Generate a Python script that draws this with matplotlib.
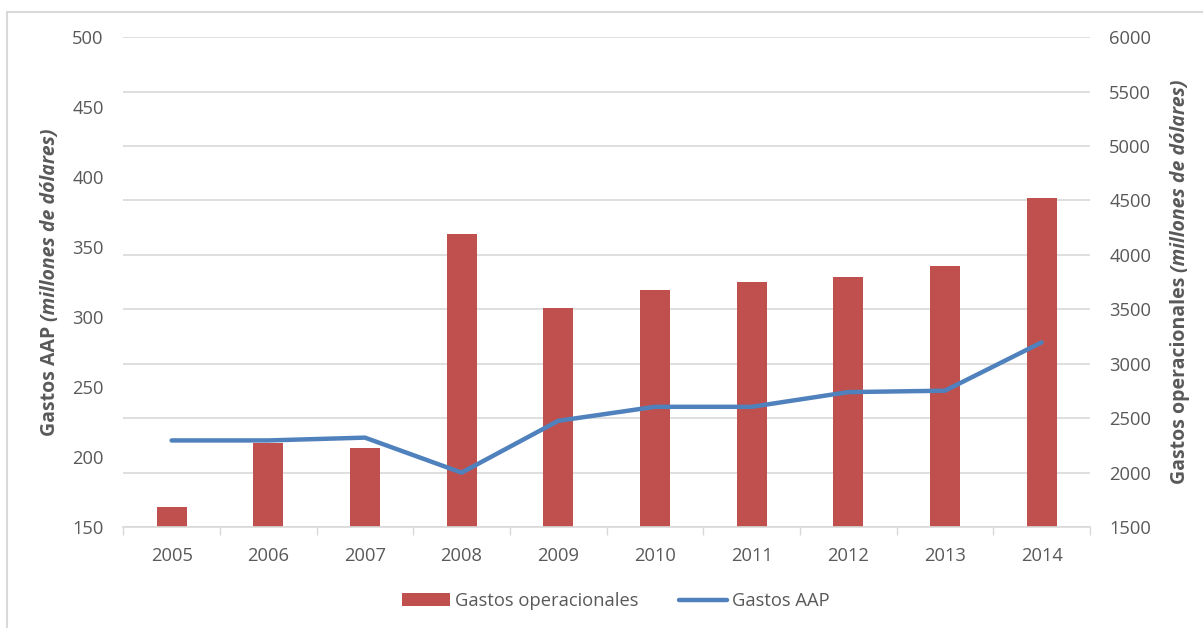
import matplotlib
matplotlib.use("Agg")
import matplotlib.pyplot as plt
from matplotlib.patches import Rectangle
import numpy as np

years = ["2005", "2006", "2007", "2008", "2009", "2010", "2011", "2012", "2013", "2014"]
gastos_operacionales = [1686, 2276, 2228, 4192, 3516, 3675, 3751, 3795, 3901, 4525]
gastos_aap = [212, 212, 214, 189, 226, 236, 236, 246.5, 247.5, 282]

RED = "#C0504D"
BLUE = "#4F81BD"
TXT = "#595959"
GRID = "#D9D9D9"

plt.rcParams["font.family"] = ["Open Sans", "DejaVu Sans"]

fig = plt.figure(figsize=(12.03, 6.28), dpi=100)
ax = fig.add_axes([0.1025, 0.1604, 0.906 - 0.1025, 0.941 - 0.1604])
ax2 = ax.twinx()

x = np.arange(len(years))

# bars on the right axis, line on the left axis
ax2.bar(x, gastos_operacionales, width=0.31, color=RED, zorder=2, label="Gastos operacionales")
ax2.set_ylim(1500, 6000)
ax2.set_yticks(np.arange(1500, 6001, 500))
ax2.yaxis.grid(True, color=GRID, linewidth=1.2, zorder=0)
ax2.set_axisbelow(True)

ax.set_zorder(ax2.get_zorder() + 1)
ax.patch.set_visible(False)
ax.plot(x, gastos_aap, color=BLUE, linewidth=3.2, solid_capstyle="round", label="Gastos AAP")
ax.set_ylim(150, 500)
ax.set_yticks(np.arange(150, 501, 50))
ax.set_xlim(-0.5, len(years) - 0.5)

ax.set_xticks(x)
ax.set_xticklabels(years)
ax.set_xticks(np.arange(-0.5, len(years)), minor=True)
ax.tick_params(axis="x", which="major", length=0, pad=14, labelsize=13.2, labelcolor=TXT)
ax.tick_params(axis="x", which="minor", length=6, width=1, color=GRID, direction="out")
ax.tick_params(axis="y", length=0, pad=14, labelsize=13.2, labelcolor=TXT)
ax2.tick_params(axis="y", length=0, pad=14, labelsize=13.2, labelcolor=TXT)

for a in (ax, ax2):
    for s in ("top", "left", "right"):
        a.spines[s].set_visible(False)
    a.spines["bottom"].set_color(GRID)
    a.spines["bottom"].set_linewidth(1.2)
ax2.spines["bottom"].set_visible(False)


def two_part_label(xc, yc, bold_part, italic_part):
    """Vertical label with a bold piece followed by a bold italic piece."""
    fig.canvas.draw()
    r = fig.canvas.get_renderer()
    t1 = fig.text(0, 0, bold_part, rotation=90, fontsize=14, fontweight="bold", color=TXT,
                  ha="center", va="bottom")
    t2 = fig.text(0, 0, italic_part, rotation=90, fontsize=14, fontweight="bold", style="italic",
                  color=TXT, ha="center", va="bottom")
    h1 = t1.get_window_extent(r).height
    h2 = t2.get_window_extent(r).height
    H = fig.bbox.height
    y0 = yc * H - (h1 + h2) / 2
    t1.set_position((xc, y0 / H))
    t2.set_position((xc, (y0 + h1) / H))


yc = 1 - 282 / 628
two_part_label(50 / 1203, yc, "Gastos AAP ", "(millones de dólares)")
two_part_label(1180 / 1203, yc, "Gastos operacionales ", "(millones de dólares)")

h1, l1 = ax2.get_legend_handles_labels()
h2, l2 = ax.get_legend_handles_labels()
fig.legend(h1 + h2, l1 + l2, loc="center", bbox_to_anchor=(0.512, 1 - 601 / 628), ncol=2,
           frameon=False, fontsize=13.2, labelcolor=TXT, handlelength=2.6, handletextpad=0.3,
           columnspacing=2.2)

fig.patches.append(Rectangle((7 / 1203, -0.1), 1.2, 0.1 + (1 - 12 / 628), transform=fig.transFigure,
                             fill=False, edgecolor=GRID, linewidth=1.5))

fig.savefig("out.png", dpi=100)
